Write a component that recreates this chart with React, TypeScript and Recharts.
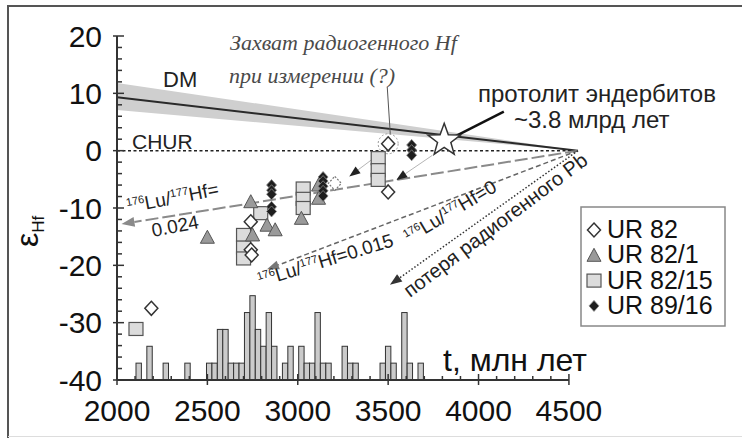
import React from 'react';
import {
    ComposedChart,
    XAxis,
    YAxis,
    Bar,
    Area,
    Scatter,
    ReferenceLine,
    ReferenceDot,
} from 'recharts';

const SANS = '"Liberation Sans", Arial, sans-serif';
const SERIF = '"Liberation Serif", "Times New Roman", serif';

// histogram of U-Pb ages (30 Ma bins), counts
const histAges = [
    2120, 2180, 2270, 2390, 2510, 2540, 2570, 2600, 2630, 2660, 2690, 2720, 2750, 2780, 2810, 2840, 2870,
    2930, 2960, 3020, 3050, 3080, 3110, 3140, 3170, 3260, 3290, 3320, 3470, 3500, 3530, 3590, 3620, 3680,
];
const histCounts = [
    1, 2, 1, 1, 1, 1, 3, 3, 1, 1, 1, 4, 5, 3, 2, 4, 2,
    1, 2, 2, 1, 1, 4, 1, 1, 2, 1, 1, 1, 2, 1, 4, 1, 1,
];

// εHf vs age, by sample
const ur82 = [
    { t: 2740, e: -12.4 },
    { t: 2740, e: -17.3 },
    { t: 2745, e: -18.2 },
    { t: 2190, e: -27.5 },
    { t: 3500, e: 1.2 },
    { t: 3500, e: -7.2 },
];
const ur82Captured = [{ t: 3205, e: -5.7 }];
const ur82_1 = [
    { t: 2740, e: -8.9 },
    { t: 2830, e: -13.0 },
    { t: 2875, e: -13.8 },
    { t: 2750, e: -14.7 },
    { t: 2500, e: -15.1 },
    { t: 3020, e: -11.8 },
    { t: 3115, e: -6.0 },
    { t: 3115, e: -8.3 },
];
const ur82_15 = [
    { t: 2795, e: -10.9 },
    { t: 2700, e: -14.7 },
    { t: 2700, e: -16.9 },
    { t: 2700, e: -18.8 },
    { t: 3030, e: -6.6 },
    { t: 3030, e: -8.4 },
    { t: 3030, e: -10.0 },
    { t: 3445, e: -1.3 },
    { t: 3445, e: -3.4 },
    { t: 3445, e: -5.1 },
    { t: 2105, e: -31.1 },
];
const ur89_16 = [
    { t: 2855, e: -6.0 },
    { t: 2855, e: -6.9 },
    { t: 2855, e: -7.6 },
    { t: 2855, e: -9.8 },
    { t: 2855, e: -10.6 },
    { t: 3140, e: -4.6 },
    { t: 3140, e: -5.3 },
    { t: 3140, e: -6.2 },
    { t: 3140, e: -7.0 },
    { t: 3140, e: -7.9 },
    { t: 3630, e: 1.0 },
    { t: 3630, e: 0.1 },
    { t: 3630, e: -0.8 },
];
const protolith = [{ t: 3810, e: 1.8 }];

// model lines (age, εHf)
const dmBand = [
    { t: 2000, band: [7.1, 11.8] },
    { t: 4550, band: [0, 0] },
];
const dmLine = [{ x: 2000, y: 9.3 }, { x: 4550, y: 0 }];
const churLine = [{ x: 2000, y: 0 }, { x: 4550, y: 0 }];
const lu024 = [{ x: 4550, y: 0 }, { x: 2025, y: -12.8 }];
const lu015 = [{ x: 4550, y: 0 }, { x: 2830, y: -20.7 }];
const lu000 = [{ x: 4550, y: 0 }, { x: 3510, y: -23.4 }];
const starArrow = [{ x: 3745, y: -0.8 }, { x: 3545, y: -5.1 }];
const captureArrow = [{ x: 3480, y: 0.1 }, { x: 3285, y: -4.5 }];
const captureNote = [{ x: 3495, y: 11.1 }, { x: 3512, y: 2.8 }];
const protolithNote = [{ x: 4140, y: 6.8 }, { x: 3865, y: 2.4 }];

const xTicks = Array.from({ length: 26 }, (_, i) => 2000 + i * 100);
const yTicks = Array.from({ length: 31 }, (_, i) => -40 + i * 2);

const histData = histAges.map((t, i) => ({ t, n: histCounts[i] }));

const XTick = (props: any) => {
    const { x, y, payload } = props;
    const major = payload.value % 500 === 0;
    return (
        <g>
            <line x1={x} x2={x} y1={y - (major ? 6 : 4)} y2={y + (major ? 5 : 0)} stroke='#333' strokeWidth={1.5} />
            {major && (
                <text x={x} y={y + 41} textAnchor='middle' fontSize={30} fill='#111' fontFamily={SANS}>
                    {payload.value}
                </text>
            )}
        </g>
    );
};

const YTick = (props: any) => {
    const { x, y, payload } = props;
    const major = payload.value % 10 === 0;
    return (
        <g>
            <line x1={x - (major ? 4 : 0)} x2={x + (major ? 7 : 5)} y1={y} y2={y} stroke='#333' strokeWidth={1.5} />
            {major && (
                <text x={x - 15} y={y} dy='0.35em' textAnchor='end' fontSize={30} fill='#111' fontFamily={SANS}>
                    {payload.value}
                </text>
            )}
        </g>
    );
};

// histogram bin: 30 Ma wide, centred on the bar position
const histBar = (p: any) => {
    const cx = p.x + p.width / 2;
    return (
        <rect x={cx - 2.7} y={p.y} width={5.4} height={p.height} fill='#cbcbcb' stroke='#333' strokeWidth={1} />
    );
};

const arrow = (color: string, head: string, width: number, dash?: string, size = 11) => (p: any) => {
    const { x1, y1, x2, y2 } = p;
    const a = Math.atan2(y2 - y1, x2 - x1);
    const bx = x2 - size * Math.cos(a);
    const by = y2 - size * Math.sin(a);
    const w = size * 0.38;
    const pts = `${x2},${y2} ${bx + w * Math.sin(a)},${by - w * Math.cos(a)} ${bx - w * Math.sin(a)},${by + w * Math.cos(a)}`;
    return (
        <g>
            <line x1={x1} y1={y1} x2={bx} y2={by} stroke={color} strokeWidth={width} strokeDasharray={dash} />
            <polygon points={pts} fill={head} />
        </g>
    );
};

const diamond = (p: any) => (
    <polygon
        points={`${p.cx},${p.cy - 7} ${p.cx + 6.5},${p.cy} ${p.cx},${p.cy + 7} ${p.cx - 6.5},${p.cy}`}
        fill='#fff'
        stroke='#333'
        strokeWidth={1.5}
    />
);
const dashedDiamond = (p: any) => (
    <polygon
        points={`${p.cx},${p.cy - 7} ${p.cx + 6.5},${p.cy} ${p.cx},${p.cy + 7} ${p.cx - 6.5},${p.cy}`}
        fill='#fff'
        stroke='#777'
        strokeWidth={1.2}
        strokeDasharray='2 1.5'
    />
);
const triangle = (p: any) => (
    <polygon
        points={`${p.cx},${p.cy - 7} ${p.cx + 7},${p.cy + 6} ${p.cx - 7},${p.cy + 6}`}
        fill='#9a9a9a'
        stroke='#555'
        strokeWidth={1}
    />
);
const square = (p: any) => (
    <rect x={p.cx - 7} y={p.cy - 6.5} width={14} height={13} fill='#dcdcdc' stroke='#555' strokeWidth={1.2} />
);
const blackDiamond = (p: any) => (
    <polygon
        points={`${p.cx},${p.cy - 5.5} ${p.cx + 5},${p.cy} ${p.cx},${p.cy + 5.5} ${p.cx - 5},${p.cy}`}
        fill='#1e1e1e'
        stroke='#888'
        strokeWidth={0.8}
    />
);
const star = (p: any) => {
    const pts = [];
    for (let i = 0; i < 10; i++) {
        const r = i % 2 === 0 ? 17 : 7;
        const a = -Math.PI / 2 + (i * Math.PI) / 5;
        pts.push(`${p.cx + r * Math.cos(a)},${p.cy + r * Math.sin(a)}`);
    }
    return <polygon points={pts.join(' ')} fill='#fff' stroke='#333' strokeWidth={1.5} />;
};

const LuHf = ({ x, y, angle, tail }: { x: number; y: number; angle: number; tail: string }) => (
    <text transform={`translate(${x},${y}) rotate(${angle})`} fontSize={19} fill='#222' fontFamily={SANS}>
        <tspan fontSize={11} dy={-7}>176</tspan>
        <tspan dy={7}>Lu/</tspan>
        <tspan fontSize={11} dy={-7}>177</tspan>
        <tspan dy={7}>Hf={tail}</tspan>
    </text>
);

const legendRows = [
    { label: 'UR 82', shape: diamond },
    { label: 'UR 82/1', shape: triangle },
    { label: 'UR 82/15', shape: square },
    { label: 'UR 89/16', shape: blackDiamond },
];

const App = () => {
    return (
        <div style={{ position: 'absolute', left: 0, top: 0, width: 742, height: 438, background: '#fff' }}>
            <ComposedChart
                width={742}
                height={438}
                data={histData}
                margin={{ top: 36, right: 155, bottom: 0, left: 0 }}
            >
                <XAxis
                    dataKey='t'
                    type='number'
                    domain={[2000, 4600]}
                    ticks={xTicks}
                    interval={0}
                    axisLine={false}
                    tickLine={false}
                    tickSize={0}
                    tickMargin={0}
                    height={58}
                    tick={<XTick />}
                />
                <YAxis
                    type='number'
                    domain={[-40, 20]}
                    ticks={yTicks}
                    interval={0}
                    width={117}
                    axisLine={{ stroke: '#333', strokeWidth: 2 }}
                    tickLine={false}
                    tickSize={0}
                    tickMargin={0}
                    tick={<YTick />}
                />
                <YAxis yAxisId='h' hide domain={[0, 20.4]} />
                <Area
                    data={dmBand}
                    dataKey='band'
                    type='linear'
                    stroke='none'
                    fill='#cfcfcf'
                    fillOpacity={1}
                    isAnimationActive={false}
                />
                <Bar dataKey='n' yAxisId='h' shape={histBar} isAnimationActive={false} />
                <ReferenceLine segment={[{ x: 2000, y: -40 }, { x: 4500, y: -40 }]} stroke='#333' strokeWidth={2} />
                <ReferenceLine segment={dmLine} stroke='#2a2a2a' strokeWidth={2} />
                <ReferenceLine segment={churLine} stroke='#222' strokeWidth={1.5} strokeDasharray='3 2.5' />
                <ReferenceLine segment={lu024} shape={arrow('#8a8a8a', '#8a8a8a', 2, '13 4', 13)} />
                <ReferenceLine segment={lu015} shape={arrow('#666', '#777', 1.5, '5 3', 12)} />
                <ReferenceLine segment={lu000} shape={arrow('#333', '#333', 1.5, '1.5 2', 12)} />
                <ReferenceLine segment={starArrow} shape={arrow('#b5b5b5', '#222', 1, undefined, 11)} />
                <ReferenceLine segment={captureArrow} shape={arrow('#b5b5b5', '#222', 1, undefined, 11)} />
                <ReferenceLine segment={captureNote} stroke='#555' strokeWidth={1} />
                <ReferenceLine segment={protolithNote} stroke='#111' strokeWidth={2.5} />
                <ReferenceDot x={3500} y={1.2} r={10} fill='none' stroke='#999' strokeDasharray='2 2' />
                <Scatter data={ur82_15} dataKey='e' shape={square} isAnimationActive={false} />
                <Scatter data={ur82_1} dataKey='e' shape={triangle} isAnimationActive={false} />
                <Scatter data={ur89_16} dataKey='e' shape={blackDiamond} isAnimationActive={false} />
                <Scatter data={ur82} dataKey='e' shape={diamond} isAnimationActive={false} />
                <Scatter data={ur82Captured} dataKey='e' shape={dashedDiamond} isAnimationActive={false} />
                <Scatter data={protolith} dataKey='e' shape={star} isAnimationActive={false} />
            </ComposedChart>
            <svg
                width={742}
                height={438}
                style={{ position: 'absolute', left: 0, top: 0, pointerEvents: 'none' }}
            >
                <path d='M8,438 L8,6 L742,6' fill='none' stroke='#555' strokeWidth={2} />
                <line x1={8} x2={742} y1={436.5} y2={436.5} stroke='#ddd' strokeWidth={1} />
                <text fontFamily={SERIF} fontStyle='italic' fontSize={22} fill='#4a4a4a'>
                    <tspan x={230} y={50}>Захват радиогенного Hf</tspan>
                    <tspan x={229} y={83}>при измерении (?)</tspan>
                </text>
                <text x={163} y={87} fontFamily={SANS} fontSize={22} fill='#222'>DM</text>
                <text x={132} y={149} fontFamily={SANS} fontSize={21} fill='#222'>CHUR</text>
                <text fontFamily={SANS} fontSize={24} fill='#222'>
                    <tspan x={478} y={102}>протолит эндербитов</tspan>
                    <tspan x={514} y={128}>~3.8 млрд лет</tspan>
                </text>
                <LuHf x={128} y={213} angle={-11} tail='' />
                <text transform='translate(153,237) rotate(-11)' fontFamily={SANS} fontSize={19} fill='#222'>0.024</text>
                <LuHf x={260} y={287} angle={-17} tail='0.015' />
                <LuHf x={409} y={244} angle={-31} tail='0' />
                <text transform='translate(410,298) rotate(-37)' fontFamily={SANS} fontSize={20} fill='#222'>
                    потеря радиогенного Pb
                </text>
                <text x={443} y={371} fontFamily={SANS} fontSize={32} fill='#111'>t, млн лет</text>
                <text transform='translate(38,247) rotate(-90)' fontFamily={SANS} fontSize={32} fill='#111'>
                    ε<tspan fontSize={17} dy={6}>Hf</tspan>
                </text>
                <rect x={581} y={207} width={144} height={119} fill='#fff' stroke='#888' strokeWidth={1.5} />
                {legendRows.map((r, i) => (
                    <g key={r.label}>
                        {r.shape({ cx: 594, cy: 230 + i * 25.3 })}
                        <text x={607} y={238 + i * 25.3} fontFamily={SANS} fontSize={25} fill='#111'>
                            {r.label}
                        </text>
                    </g>
                ))}
            </svg>
        </div>
    );
};

export default App;
